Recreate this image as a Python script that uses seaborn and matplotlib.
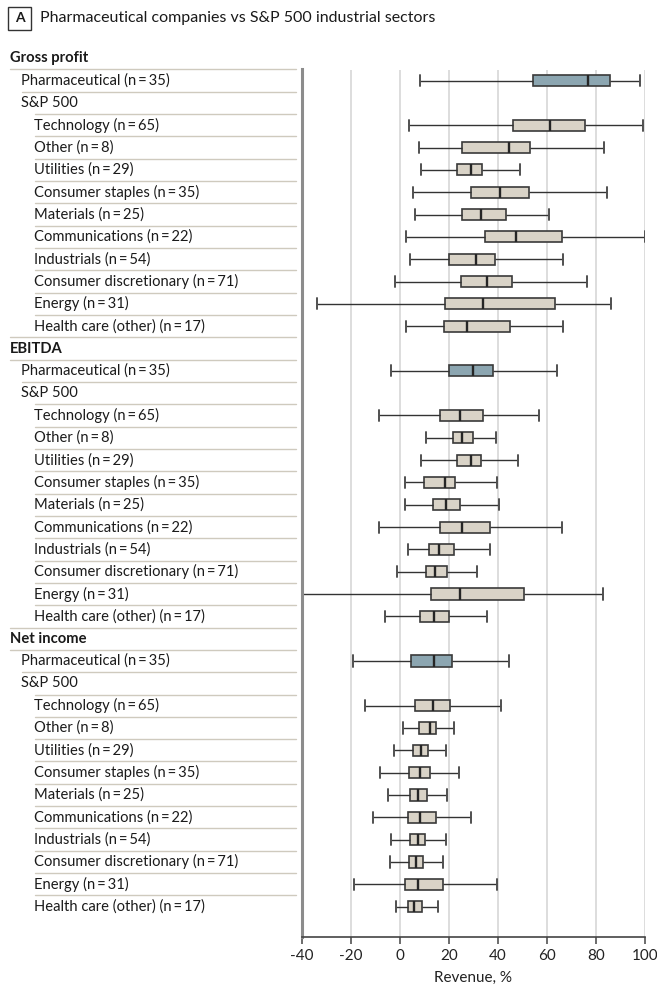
import numpy as np
import pandas as pd
import seaborn as sns
import matplotlib
matplotlib.use("Agg")
import matplotlib.pyplot as plt
from matplotlib import transforms
from matplotlib.lines import Line2D
from matplotlib.patches import Rectangle

# ---------------------------------------------------------------- data
metrics = ["Gross profit", "EBITDA", "Net income"]
pharma_n = 35
sectors = ["Technology", "Other", "Utilities", "Consumer staples", "Materials",
           "Communications", "Industrials", "Consumer discretionary", "Energy",
           "Health care (other)"]
sector_n = [65, 8, 29, 35, 25, 22, 54, 71, 31, 17]

# five-number summaries, % of revenue: [low whisker, Q1, median, Q3, high whisker]
gross_pharma = [8.3, 54.4, 76.6, 85.9, 97.8]
gross_sectors = [
    [3.5, 46.3, 61.2, 75.6, 99.0],
    [7.6, 25.2, 44.6, 52.9, 83.4],
    [8.6, 23.1, 28.8, 33.6, 48.8],
    [5.2, 29.1, 40.8, 52.8, 84.5],
    [6.0, 25.2, 33.2, 43.4, 60.9],
    [2.6, 34.8, 47.5, 66.2, 100.0],
    [4.2, 20.0, 30.9, 38.8, 66.4],
    [-2.2, 25.0, 35.6, 45.9, 76.2],
    [-34.0, 18.5, 34.0, 63.3, 86.3],
    [2.3, 18.1, 27.2, 45.0, 66.7],
]
ebitda_pharma = [-3.8, 20.1, 29.7, 38.1, 64.1]
ebitda_sectors = [
    [-8.4, 16.5, 24.6, 34.0, 56.6],
    [10.6, 21.8, 25.4, 29.9, 39.3],
    [8.6, 23.1, 28.8, 33.2, 48.2],
    [2.2, 9.9, 18.2, 22.6, 39.7],
    [2.2, 13.6, 18.9, 24.6, 40.5],
    [-8.6, 16.5, 25.3, 36.7, 66.3],
    [3.1, 11.7, 15.8, 22.2, 36.9],
    [-1.2, 10.7, 14.2, 19.0, 31.4],
    [-40.0, 12.8, 24.5, 50.7, 83.0],
    [-6.1, 8.0, 14.0, 20.1, 35.4],
]
net_pharma = [-19.0, 4.4, 14.0, 21.1, 44.6]
net_sectors = [
    [-14.3, 6.3, 13.5, 20.5, 41.2],
    [1.1, 7.9, 12.2, 14.6, 22.0],
    [-2.3, 5.4, 8.6, 11.3, 18.8],
    [-8.2, 3.7, 8.0, 12.1, 24.2],
    [-4.9, 4.2, 7.5, 11.1, 19.2],
    [-10.9, 3.4, 8.3, 14.8, 29.1],
    [-3.8, 4.2, 7.3, 10.3, 18.8],
    [-4.2, 3.7, 6.4, 9.5, 17.4],
    [-18.9, 2.2, 7.2, 17.6, 39.5],
    [-1.6, 3.4, 5.8, 8.8, 15.4],
]
pharma_stats = [gross_pharma, ebitda_pharma, net_pharma]
sector_stats = [gross_sectors, ebitda_sectors, net_sectors]

x_ticks = [-40, -20, 0, 20, 40, 60, 80, 100]

PHARMA_COLOR = "#86a9b7"
SECTOR_COLOR = "#dcd4c4"
SEP_COLOR = "#cfcabe"
THIN = "\u2009"

# ---------------------------------------------------------------- rows
rows = []   # (key, label, level, kind)
records = []
for m, ps, ss in zip(metrics, pharma_stats, sector_stats):
    rows.append((f"{m}|h", m, 0, None))
    key = f"{m}|pharma"
    rows.append((key, f"Pharmaceutical (n{THIN}={THIN}{pharma_n})", 1, "pharma"))
    records += [(key, "pharma", v) for v in ps]
    rows.append((f"{m}|sp", "S&P 500", 1, None))
    for s, n, st in zip(sectors, sector_n, ss):
        key = f"{m}|{s}"
        rows.append((key, f"{s} (n{THIN}={THIN}{n})", 2, "sector"))
        records += [(key, "sector", v) for v in st]

df = pd.DataFrame(records, columns=["row", "kind", "value"])
order = [r[0] for r in rows]

# ---------------------------------------------------------------- figure
sns.set_theme(style="white")
plt.rcParams["font.family"] = ["Lato", "DejaVu Sans"]

W, H = 657, 989
fig = plt.figure(figsize=(W / 100, H / 100), dpi=100)


def fx(px):
    return px / W


def fy(py):
    return 1 - py / H


ax_left, ax_right, ax_top, ax_bottom = 302, 645, 69.5, 937
ax = fig.add_axes([fx(ax_left), fy(ax_bottom),
                   (ax_right - ax_left) / W, (ax_bottom - ax_top) / H])

sns.boxplot(
    data=df, x="value", y="row", order=order,
    hue="kind", hue_order=["pharma", "sector"],
    palette={"pharma": PHARMA_COLOR, "sector": SECTOR_COLOR},
    dodge=False, whis=(0, 100), width=0.5, linecolor="#3a3a3a",
    linewidth=1.2, legend=False, ax=ax, capwidths=0.5,
    medianprops=dict(linewidth=1.7, color="#262626"),
    capprops=dict(color="#505050", linewidth=1.4),
    whiskerprops=dict(color="#333333", linewidth=1.0),
)

n_rows = len(rows)
row_step = (906.6 - 58.3) / (n_rows - 1)
ax.set_ylim((ax_bottom - 58.3) / row_step, (ax_top - 58.3) / row_step)
ax.set_yticks([])
ax.set_ylabel("")
ax.set_xlim(-40, 100)
ax.set_xticks(x_ticks)
ax.set_xticklabels([str(t) for t in x_ticks], fontsize=11, color="#222222")
ax.set_xlabel("Revenue, %", fontsize=11, color="#222222", labelpad=5)
ax.tick_params(axis="x", direction="out", length=5, width=1.1,
               color="#444444", pad=4, bottom=True)
ax.xaxis.grid(True, color="#dadada", linewidth=1.3)
ax.set_axisbelow(True)
for side in ("top", "right"):
    ax.spines[side].set_visible(False)
ax.spines["left"].set_color("#8c8c8c")
ax.spines["left"].set_linewidth(2.2)
ax.spines["bottom"].set_color("#444444")
ax.spines["bottom"].set_linewidth(1.2)

# ---------------------------------------------------------------- row labels
trans = transforms.blended_transform_factory(fig.transFigure, ax.transData)
indent = {0: 10, 1: 21, 2: 34}
for i, (key, label, level, kind) in enumerate(rows):
    fig.text(fx(indent[level]), i, label, transform=trans, ha="left",
             va="center", fontsize=10.6, color="#1a1a1a",
             fontweight="bold" if level == 0 else "normal")
    if i == n_rows - 1:
        continue
    next_level = rows[i + 1][2]
    if level == 0 or next_level == 0:
        start = 9.5
    elif kind == "pharma":
        start = 22
    else:
        start = 35
    fig.add_artist(Line2D([fx(start), fx(296)], [i + 0.5, i + 0.5],
                          transform=trans, color=SEP_COLOR, linewidth=1.0))

# ---------------------------------------------------------------- title
fig.add_artist(Rectangle((fx(8), fy(30)), (31 - 8) / W, (30 - 7) / H,
                         transform=fig.transFigure, fill=False,
                         edgecolor="#333333", linewidth=1.0))
fig.text(fx(19.5), fy(18.5), "A", ha="center", va="center", fontsize=10,
         fontweight="bold", color="#1a1a1a")
fig.text(fx(40), fy(18), "Pharmaceutical companies vs S&P 500 industrial sectors",
         ha="left", va="center", fontsize=11.5, color="#1a1a1a")

fig.savefig("out.png", dpi=100)
